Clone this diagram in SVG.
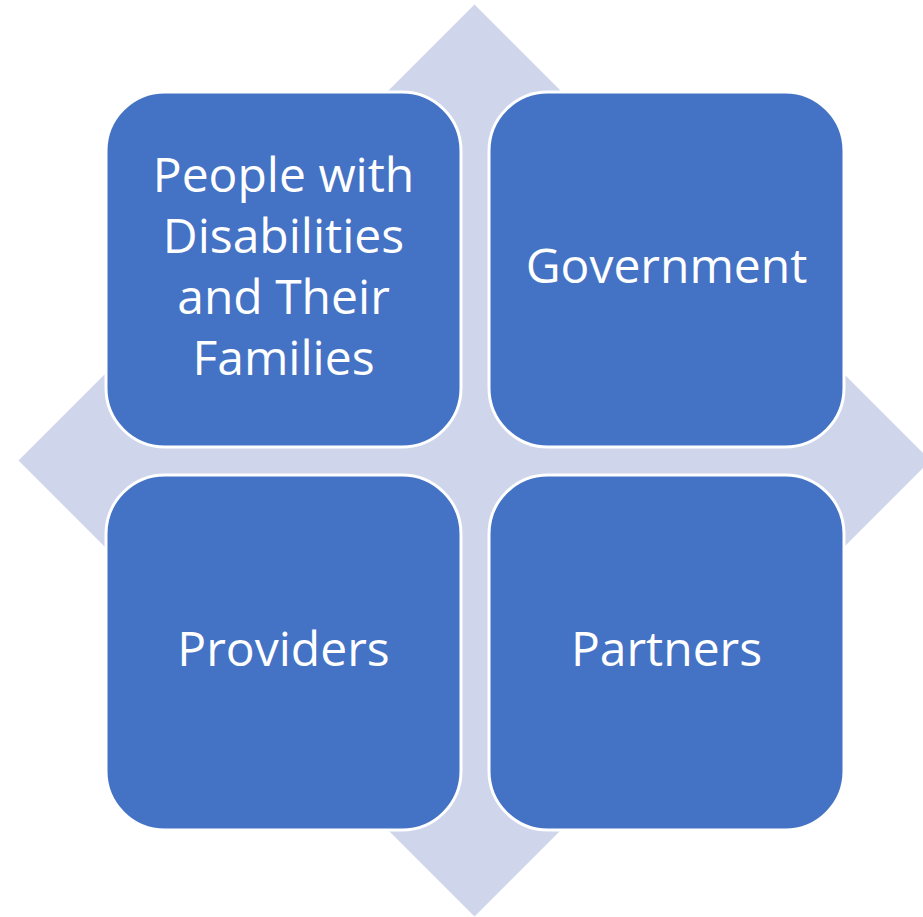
<svg xmlns="http://www.w3.org/2000/svg" width="923" height="917" viewBox="0 0 923 917">
<style>
.box{fill:#4472C4;stroke:#FFFFFF;stroke-width:3}
.lbl{font-family:"Open Sans","Noto Sans","Liberation Sans",sans-serif;font-size:48px;fill:#FFFFFF;text-anchor:middle}
</style>
<rect width="923" height="917" fill="#FFFFFF"/>
<g id="background-diamond">
<polygon points="474.5,4.5 930.5,460.5 474.5,916.5 18.5,460.5" fill="#CFD5EA"/>
</g>
<g id="connectors"></g>
<g id="node-people">
<rect class="box" x="106" y="92" width="355" height="355" rx="59" ry="59"/>
<text class="lbl" x="283.5" y="192">People with</text>
<text class="lbl" x="283.5" y="253">Disabilities</text>
<text class="lbl" x="283.5" y="314">and Their</text>
<text class="lbl" x="283.5" y="375">Families</text>
</g>
<g id="node-government">
<rect class="box" x="489" y="92" width="355" height="355" rx="59" ry="59"/>
<text class="lbl" x="666.5" y="283">Government</text>
</g>
<g id="node-providers">
<rect class="box" x="106" y="475" width="355" height="355" rx="59" ry="59"/>
<text class="lbl" x="283.5" y="666">Providers</text>
</g>
<g id="node-partners">
<rect class="box" x="489" y="475" width="355" height="355" rx="59" ry="59"/>
<text class="lbl" x="666.5" y="666">Partners</text>
</g>
</svg>
